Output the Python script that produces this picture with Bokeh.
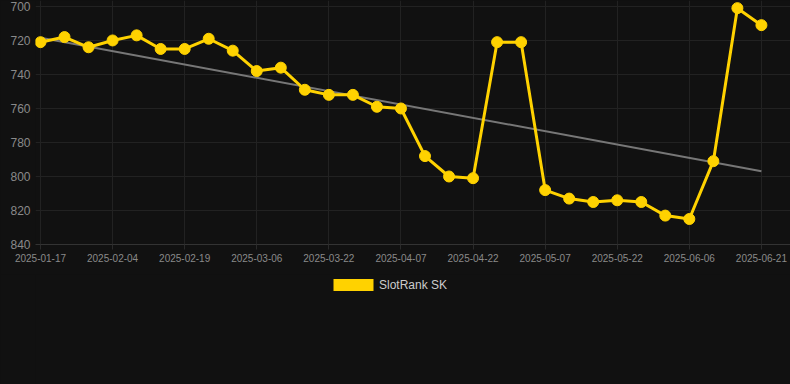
from bokeh.plotting import figure
from bokeh.models import Range1d, FixedTicker, Legend, LegendItem
from bokeh.layouts import column
from bokeh.embed import file_html
from bokeh.resources import INLINE
import numpy as np

tick_labels = ["2025-01-17", "2025-02-04", "2025-02-19", "2025-03-06", "2025-03-22",
               "2025-04-07", "2025-04-22", "2025-05-07", "2025-05-22", "2025-06-06", "2025-06-21"]
ranks = [721, 718, 724, 720, 717, 725, 725, 719, 726, 738, 736, 749, 752, 752, 759, 760,
         788, 800, 801, 721, 721, 808, 813, 815, 814, 815, 823, 825, 791, 701, 711]
y_ticks = [700, 720, 740, 760, 780, 800, 820, 840]
series_name = "SlotRank SK"

idx = list(range(len(ranks)))
label_idx = idx[::3]

slope, intercept = np.polyfit(idx, ranks, 1)
trend_x = [idx[0], idx[-1]]
trend_y = [intercept + slope * t for t in trend_x]

BG = "#111111"
YELLOW = "#FFD200"

p = figure(frame_width=755, frame_height=244, output_backend="svg", toolbar_location=None,
           x_range=Range1d(-0.208, 31.21), y_range=Range1d(840, 696.5),
           min_border_left=35, min_border_right=0, min_border_top=0, min_border_bottom=30,
           background_fill_color=BG, border_fill_color=BG, outline_line_color=None)

p.xgrid.ticker = FixedTicker(ticks=label_idx)
p.ygrid.ticker = FixedTicker(ticks=y_ticks)
p.xgrid.grid_line_color = "#222222"
p.ygrid.grid_line_color = "#222222"

p.xaxis.ticker = FixedTicker(ticks=label_idx)
p.xaxis.major_label_overrides = {i: lab for i, lab in zip(label_idx, tick_labels)}
p.yaxis.ticker = FixedTicker(ticks=y_ticks)

for ax in (p.xaxis[0], p.yaxis[0]):
    ax.major_label_text_color = "#8a8a8a"
    ax.major_label_text_font = "Liberation Sans"
    ax.minor_tick_line_color = None
p.xaxis.major_label_text_font_size = "10px"
p.yaxis.major_label_text_font_size = "12px"
p.xaxis.axis_line_color = "#333333"
p.xaxis.major_tick_line_color = "#2a2a2a"
p.xaxis.major_tick_out = 5
p.xaxis.major_tick_in = 0
p.xaxis.major_label_standoff = 4
p.yaxis.axis_line_color = None
p.yaxis.major_tick_line_color = None
p.yaxis.major_tick_out = 0
p.yaxis.major_label_standoff = 5

p.line(trend_x, trend_y, line_color="#777777", line_width=2)
p.line(idx, ranks, line_color=YELLOW, line_width=3)
p.scatter(idx, ranks, size=11, fill_color=YELLOW, line_color=YELLOW)

# legend strip below the chart
p2 = figure(frame_width=755, frame_height=110, output_backend="svg", toolbar_location=None,
            x_range=Range1d(0, 1), y_range=Range1d(0, 1),
            x_axis_type=None, y_axis_type=None,
            min_border_left=35, min_border_right=0, min_border_top=0, min_border_bottom=0,
            background_fill_color=BG, border_fill_color=BG, outline_line_color=None)
p2.grid.visible = False
leg_r = p2.rect(x=[0.5], y=[0.5], width=0, height=0, fill_color=YELLOW, line_color=None)
legend = Legend(items=[LegendItem(label=series_name, renderers=[leg_r])],
                location=(293, 92), orientation="horizontal",
                background_fill_alpha=0, border_line_color=None,
                label_text_color="#cccccc", label_text_font="Liberation Sans",
                label_text_font_size="12px", glyph_width=50, glyph_height=15,
                label_height=15, label_standoff=1, padding=0, margin=0)
p2.add_layout(legend, "center")

layout = column(p, p2, spacing=0, styles={"background-color": BG})

open("out.html", "w").write(file_html(layout, INLINE))
